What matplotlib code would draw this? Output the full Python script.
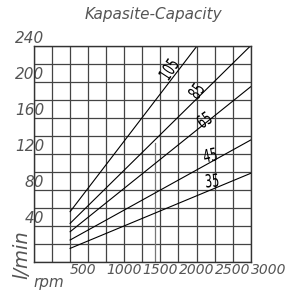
import numpy as np
import matplotlib.pyplot as plt
from matplotlib.ticker import MultipleLocator, FuncFormatter
from matplotlib.textpath import TextPath
from matplotlib.patches import PathPatch
from matplotlib.transforms import Affine2D, IdentityTransform

# pump sizes (cc/rev) and their capacity lines
sizes = ['105', '85', '65', '45', '35']
rpm_start = [500, 500, 500, 500, 500]
rpm_end = [3000, 3000, 3000, 3000, 3000]
flow_start = [55.6, 42.6, 33.3, 24.1, 14.8]
flow_end = [317.6, 240.0, 194.4, 135.2, 98.2]

# where the size labels sit along each line
label_rpm = [1862, 2243, 2353, 2436, 2464]
label_rot = [57, 55, 35, 12, 5]
label_dy = [14, 8.5, 4.5, 7.5, 9]

x_ticks = [500, 1000, 1500, 2000, 2500, 3000]
y_ticks = [40, 80, 120, 160, 200, 240]

grey = '#555555'

fig = plt.figure(figsize=(3.01, 2.91), dpi=100)
ax = fig.add_axes([34/301, 1 - 261.7/291, 216.7/301, 216/291])

ax.set_xlim(0, 3000)
ax.set_ylim(0, 240)
ax.xaxis.set_major_locator(MultipleLocator(250))
ax.yaxis.set_major_locator(MultipleLocator(20))
ax.xaxis.set_major_formatter(FuncFormatter(lambda v, p: f'{int(round(v))}' if int(round(v)) in x_ticks else ''))
ax.yaxis.set_major_formatter(FuncFormatter(lambda v, p: f'{int(round(v))}' if int(round(v)) in y_ticks else ''))
ax.grid(True, color='#444444', linewidth=0.9)
ax.set_axisbelow(True)
ax.tick_params(length=0, labelcolor=grey)
ax.tick_params(axis='y', pad=-7.5, labelsize=11)
ax.tick_params(axis='x', pad=1, labelsize=10)
for lbl in ax.get_yticklabels():
    lbl.set_va('bottom')
    lbl.set_style('italic')
for lbl in ax.get_xticklabels():
    lbl.set_ha('left')
    lbl.set_style('italic')
for sp in ax.spines.values():
    sp.set_color('#333333')
    sp.set_linewidth(1.0)

# stray partial vertical line in the original drawing
ax.plot([1670, 1670], [0, 132], color='#777777', linewidth=0.9)

for i in range(len(sizes)):
    ax.plot([rpm_start[i], rpm_end[i]], [flow_start[i], flow_end[i]],
            color='black', linewidth=0.8)
    slope = (flow_end[i] - flow_start[i]) / (rpm_end[i] - rpm_start[i])
    yl = flow_start[i] + slope * (label_rpm[i] - rpm_start[i])
    px, py = ax.transData.transform((label_rpm[i], yl))
    py += label_dy[i]
    # narrow, tall digits like the stencil font of the original
    tp = TextPath((0, 0), sizes[i], size=18)
    bb = tp.get_extents()
    tr = (Affine2D().translate(-(bb.x0 + bb.x1) / 2, -(bb.y0 + bb.y1) / 2)
          .scale(0.62, 1.0).rotate_deg(label_rot[i]).translate(px, py))
    patch = PathPatch(tr.transform_path(tp), facecolor='black', edgecolor='none',
                      transform=IdentityTransform())
    fig.patches.append(patch)

fig.text(153/301, 1 - 15/291, 'Kapasite-Capacity', ha='center', va='center',
         fontsize=11, style='italic', color=grey)
fig.text(22/301, 1 - 255/291, 'l/min', ha='center', va='center', rotation=90,
         fontsize=14, style='italic', color=grey)
fig.text(49/301, 1 - 283/291, 'rpm', ha='center', va='center',
         fontsize=11, style='italic', color=grey)

plt.savefig('out.png', dpi=100)
